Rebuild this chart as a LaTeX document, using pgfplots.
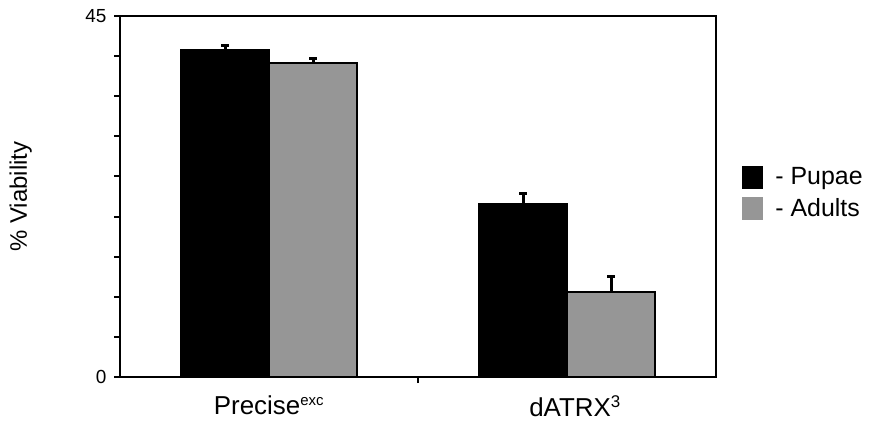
\documentclass[border=0pt]{standalone}
\usepackage{pgfplots}
\pgfplotsset{compat=1.18}
\usepackage{fontspec}
\setmainfont{Liberation Sans}
\definecolor{bargray}{RGB}{150,150,150}
\begin{document}
\begin{tikzpicture}[x=1bp,y=1bp]
\useasboundingbox (0,0) rectangle (869,422);
\begin{axis}[
  at={(120bp,45bp)}, anchor=south west,
  scale only axis, width=596bp, height=361bp,
  ymin=0, ymax=45,
  xmin=-0.5, xmax=1.5,
  ybar=0pt, bar width=88bp,
  axis line style={line width=2.2bp},
  ytick={0,5,...,45},
  yticklabels={0,,,,,,,,,45},
  xtick={0,1},
  xticklabels={Precise\textsuperscript{\fontsize{15}{15}\selectfont exc},\hspace{16bp}dATRX\textsuperscript{\fontsize{17}{17}\selectfont 3}},
  extra x ticks={0.5}, extra x tick labels={},
  extra x tick style={major tick length=6bp},
  xtick style={draw=none},
  extra x tick style={xtick style={draw=black, line width=2bp}},
  ytick style={line width=2bp, black},
  major tick length=6bp,
  tick align=outside,
  xtick pos=bottom, ytick pos=left,
  yticklabel style={font=\fontsize{19}{19}\selectfont, xshift=-4bp},
  xticklabel style={font=\fontsize{26}{28}\selectfont, yshift=-9bp},
  ylabel={\% Viability},
  ylabel style={font=\fontsize{24}{26}\selectfont, at={(-0.142,0.5)}},
  /pgf/number format/assume math mode=true,
  legend style={draw=none, at={(1.044,0.586)}, anchor=north west,
    font=\fontsize{25}{28}\selectfont, row sep=8bp, inner sep=0pt},
  legend image code/.code={\fill[#1, draw=none] (0bp,-11.5bp) rectangle (21bp,11.5bp);},
  legend cell align=left,
  clip=false,
]
\addplot[fill=black, draw=black, line width=2bp,
  error bars/.cd, y dir=plus, y explicit,
  error bar style={line width=3bp, black},
  error mark options={rotate=90, mark size=4bp, line width=3bp, black}]
  coordinates {(0,40.7) +- (0,0.6) (1,21.6) +- (0,1.3)};
\addlegendentry{\hspace{10bp}- Pupae}
\addplot[fill=bargray, draw=black, line width=2bp,
  error bars/.cd, y dir=plus, y explicit,
  error bar style={line width=3bp, black},
  error mark options={rotate=90, mark size=4bp, line width=3bp, black}]
  coordinates {(0,39.1) +- (0,0.6) (1,10.6) +- (0,1.9)};
\addlegendentry{\hspace{10bp}- Adults}
\end{axis}
\end{tikzpicture}
\end{document}
